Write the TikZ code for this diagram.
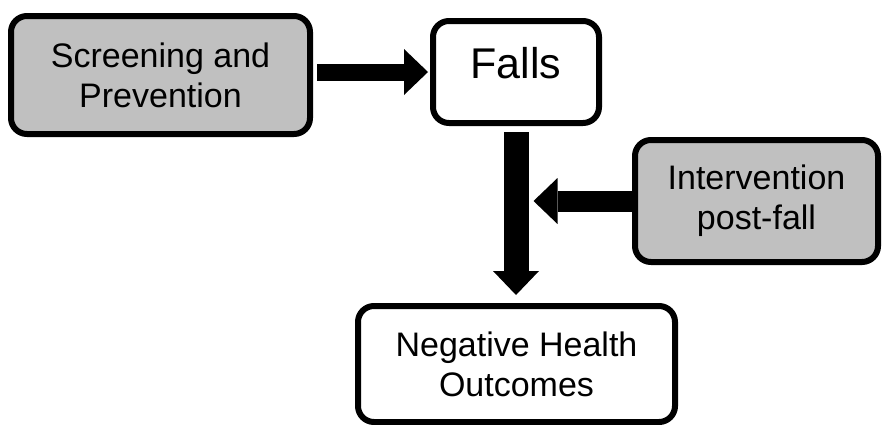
\documentclass[tikz,border=0pt]{standalone}
\usepackage{fontspec}
\setmainfont{Liberation Sans}
\usetikzlibrary{arrows.meta}
\definecolor{boxgrey}{RGB}{192,192,192}
\tikzset{%
  box/.style        = {shape=rectangle, rounded corners=16pt,%
                       draw, line width=6pt, align=center, inner sep=0pt,%
                       font=\fontsize{34}{40}\selectfont},%
  greybox/.style    = {box, fill=boxgrey},%
  whitebox/.style   = {box, fill=white},%
  blockarrow/.style = {line width=#1,%
                       -{Triangle[length=24pt,width=46pt,line width=0pt]}}%
}

\begin{document}
\begin{tikzpicture}[x=1pt,y=-1pt]
		\useasboundingbox (0,0) rectangle (882,424);
		\node[greybox, minimum width=299pt, minimum height=118pt] (screen) at (160.5,75) {Screening and\\Prevention};
		\node[whitebox, minimum width=166pt, minimum height=102pt, font=\fontsize{43}{50}\selectfont,
			text height=31pt, text depth=18pt] (falls) at (516,72) {Falls};
		\node[greybox, minimum width=243pt, minimum height=122pt] (interv) at (756.5,201) {Intervention\\post-fall};
		\node[whitebox, minimum width=317pt, minimum height=116pt] (outcome) at (516.5,364) {Negative Health\\Outcomes};
		\coordinate (meet) at (falls.south |- interv.west);
		\draw[blockarrow=17pt, shorten <=4pt, shorten >=2pt] (screen.east |- falls.west) -- (falls.west);
		\draw[blockarrow=25pt, shorten <=6pt, shorten >=8pt] (falls.south) -- (falls.south |- outcome.north);
		\draw[blockarrow=21pt, shorten >=17.5pt] (interv.west) -- (meet);
\end{tikzpicture}
\end{document}
